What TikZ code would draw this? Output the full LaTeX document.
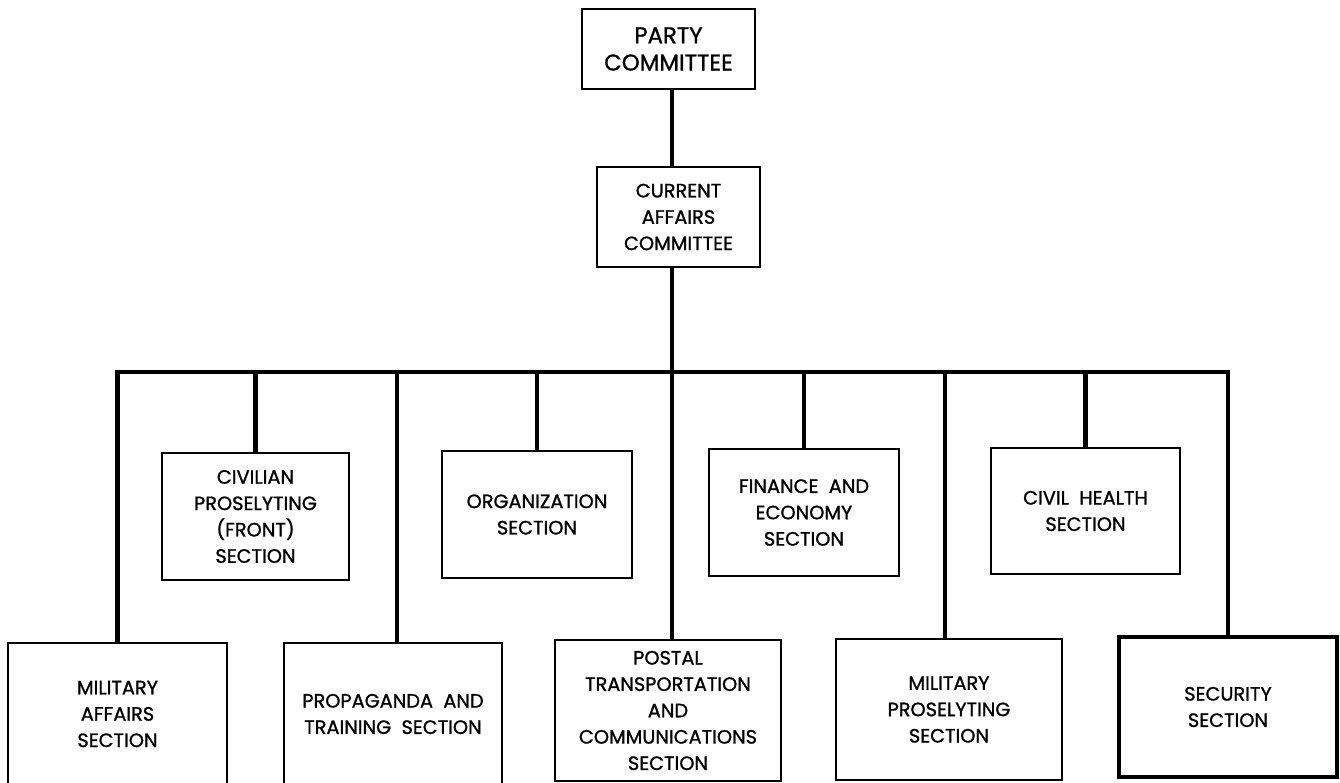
\documentclass[tikz,border=0pt]{standalone}
\usepackage{fontspec}
\setmainfont{Poppins}
\newfontfamily\boxfont{Poppins}[FakeBold=1.1]
\begin{document}
\begin{tikzpicture}[x=0.02cm,y=-0.02cm,
  box/.style={draw=black,line width=1.1pt,rectangle,inner sep=0pt,align=center,
    font=\boxfont\fontsize{11pt}{15pt}\selectfont},
  conn/.style={draw=black,line width=2.3pt,line join=miter}]
\clip (0,0) rectangle (1340,782);
% boxes (centre, width, height in px)
\node[box,font=\boxfont\fontsize{13pt}{15.5pt}\selectfont,minimum width=173*0.02cm,minimum height=80*0.02cm] (party) at (668.5,49) {PARTY\\COMMITTEE};
\node[box,minimum width=163*0.02cm,minimum height=100*0.02cm] (current) at (678.5,217) {CURRENT\\AFFAIRS\\COMMITTEE};
\node[box,minimum width=219*0.02cm,minimum height=142*0.02cm] (milaff) at (117.5,714) {MILITARY\\AFFAIRS\\SECTION};
\node[box,minimum width=187*0.02cm,minimum height=127*0.02cm] (civ) at (255.5,516.5) {CIVILIAN\\PROSELYTING\\(FRONT)\\SECTION};
\node[box,minimum width=218*0.02cm,minimum height=142*0.02cm] (prop) at (393,714) {PROPAGANDA\ \ AND\\TRAINING\ \ SECTION};
\node[box,minimum width=190*0.02cm,minimum height=127*0.02cm] (org) at (537,514.5) {ORGANIZATION\\SECTION};
\node[box,minimum width=226*0.02cm,minimum height=141*0.02cm] (postal) at (668,710.5) {POSTAL\\TRANSPORTATION\\AND\\COMMUNICATIONS\\SECTION};
\node[box,minimum width=190*0.02cm,minimum height=127*0.02cm] (fin) at (804,512.5) {FINANCE\ \ AND\\ECONOMY\\SECTION};
\node[box,minimum width=226*0.02cm,minimum height=141*0.02cm] (milpros) at (949,709.5) {MILITARY\\PROSELYTING\\SECTION};
\node[box,minimum width=189*0.02cm,minimum height=126*0.02cm] (civh) at (1085.5,511) {CIVIL\ \ HEALTH\\SECTION};
\node[box,line width=1.8pt,minimum width=218*0.02cm,minimum height=140*0.02cm] (sec) at (1228,707) {SECURITY\\SECTION};
% connectors
\coordinate (bus) at (672,372);
\draw[conn] (party.south -| bus) -- (current.north -| bus);
\draw[conn] (current.south -| bus) -- (bus);
\draw[conn] (milaff.north) -- (milaff.north |- bus) -- (sec.north |- bus) -- (sec.north);
\draw[conn] (civ.north |- bus) -- (civ.north);
\draw[conn] (397,372) coordinate (propb) -- (propb |- prop.north);
\draw[conn] (org.north |- bus) -- (org.north);
\draw[conn] (bus) -- (postal.north -| bus);
\draw[conn] (fin.north |- bus) -- (fin.north);
\draw[conn] (945,372) coordinate (mpb) -- (mpb |- milpros.north);
\draw[conn] (civh.north |- bus) -- (civh.north);
\end{tikzpicture}
\end{document}
